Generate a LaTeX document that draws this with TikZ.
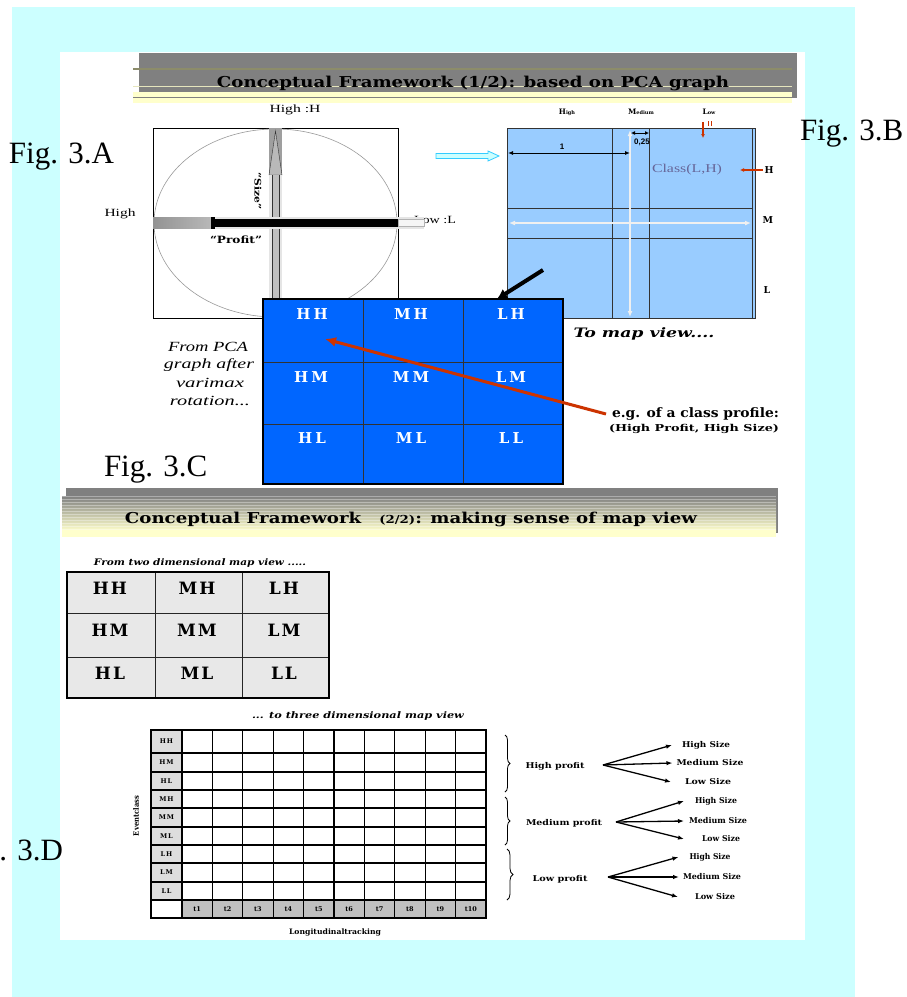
\documentclass[tikz,border=0pt]{standalone}
\usepackage{fontspec}
\setmainfont{Liberation Serif}
\newfontfamily\sansf{Liberation Sans}
\newfontfamily\heavy[Ligatures=TeX]{DejaVu Serif}
\usetikzlibrary{arrows.meta,decorations.pathreplacing}
\definecolor{bgcyan}{HTML}{CCFFFF}
\definecolor{ttgray}{HTML}{808080}
\definecolor{ttyel}{HTML}{FFFFCC}
\definecolor{ttolive}{HTML}{8C8C6A}
\definecolor{mapblue}{HTML}{99CCFF}
\definecolor{gridblue}{HTML}{0066FF}
\definecolor{redarr}{HTML}{CC3300}
\definecolor{cellgray}{HTML}{E8E8E8}
\definecolor{labgray}{HTML}{DDDDDD}
\definecolor{tgray}{HTML}{C0C0C0}
\definecolor{classcol}{HTML}{666699}
\definecolor{cyanline}{HTML}{33CCFF}
\newcommand{\fs}[1]{\fontsize{#1}{#1}\selectfont}
\newcommand{\stw}[2]{\resizebox{#1}{\height}{#2}}
\begin{document}
\begin{tikzpicture}[x=1pt,y=-1pt,
  txt/.style={inner sep=0pt, outer sep=0pt},
  figlbl/.style={txt, font=\fs{31}},
  bluecell/.style={txt, text=white, font=\heavy\bfseries\fs{15}},
  graycell/.style={txt, font=\heavy\bfseries\fs{17}},
  tinylbl/.style={txt, font=\heavy\bfseries\fs{6.5}},
  smalllbl/.style={txt, font=\heavy\bfseries\fs{8}},
  profarr/.style={line width=1.3pt, -{Latex[length=6pt,width=4.5pt]}},
  gridln/.style={black, line width=1.1pt},
]
\useasboundingbox (0,0) rectangle (906,997);
\fill[white] (0,0) rectangle (906,997);
\fill[bgcyan] (12,7) rectangle (855,997);
\fill[white] (60,52) rectangle (805,940);

% ---------- title 1 ----------
\fill[ttgray] (139,53) rectangle (797,98);
\draw[ttolive, line width=1.5pt] (133,69) -- (792,69);
\draw[ttyel!80!gray, line width=1.2pt] (133,86.5) -- (792,86.5);
\fill[ttyel] (133,92) rectangle (792,103);
\draw[gray, line width=1pt] (133,97) -- (792,97);
\node[txt, anchor=base] (title1) at (473,87) {\stw{512pt}{\heavy\bfseries\fs{15}Conceptual Framework (1/2): based on PCA graph}};

% ---------- Fig 3.A ----------
\draw[black, line width=0.8pt] (153,128) rectangle (398,318);
\draw[gray!80, line width=0.6pt] (275.5,223) ellipse [x radius=121.5pt, y radius=94pt];
\node[txt, font=\fs{11}, anchor=east] (lowL) at (456,220) {\stw{42pt}{Low :L}};
% vertical "Size" arrow
\fill[gray!75] (269,128) rectangle (282,175);
\filldraw[draw=gray!40!black, fill=gray!55] (269,175) -- (275.5,131) -- (282,175) -- cycle;
\fill[gray!20] (269,175) rectangle (282,318);
\fill[gray!50] (272.5,175) rectangle (278.5,318);
\draw[gray!40!black] (272,175) -- (272,318) (279,175) -- (279,318);
% horizontal "Profit" bar
\fill[gray!20] (212,216.5) rectangle (424,229);
\shade[left color=gray!85, right color=gray!55] (153,217) rectangle (212,228);
\fill[black] (212,219) rectangle (398,226.5);
\fill[black] (210.5,216.5) rectangle (214.5,229);
\filldraw[draw=gray!60, fill=gray!8] (398,219) rectangle (424,226);
\node[txt, font=\fs{11}] (highH) at (295,110) {\stw{51pt}{High :H}};
\node[txt, font=\fs{11}] (highP) at (120,214) {\stw{31pt}{High}};
\node[txt, font=\heavy\bfseries\fs{10}] (profit) at (236,240) {\stw{52pt}{“Profit”}};
\node[txt, font=\heavy\bfseries\fs{9}, rotate=-90] (size) at (258,191) {\stw{37pt}{“Size”}};
\node[figlbl, anchor=base west] (figA) at (9,163) {Fig. 3.A};

% ---------- Fig 3.B ----------
\fill[mapblue] (507,128) rectangle (755,318);
\draw[black!80, line width=0.8pt] (507,128) rectangle (755,318);
\draw[black!80] (752,128) -- (752,318);
\draw[black!80] (612,128) -- (612,318) (649,128) -- (649,318);
\draw[black!80] (507,208) -- (752,208) (507,238) -- (752,238);
\draw[gray!12, line width=1.5pt, {Latex[length=6pt,width=5pt]}-{Latex[length=6pt,width=5pt]}] (630,130) -- (630,317);
\draw[gray!12, line width=1.5pt, {Latex[length=6pt,width=5pt]}-{Latex[length=6pt,width=5pt]}] (509,223) -- (751,223);
\draw[black, line width=1pt, {Latex[length=5pt,width=4pt]}-{Latex[length=5pt,width=4pt]}] (508,153) -- (630,153);
\draw[black, line width=1pt, {Latex[length=4pt,width=4pt]}-{Latex[length=4pt,width=4pt]}] (631,133) -- (649,133);
\node[txt, font=\fs{8}\sansf\bfseries] (dimone) at (562,147) {1};
\node[txt, font=\fs{8}\sansf\bfseries] (dimq) at (642,142) {0,25};
\node[txt, font=\heavy\bfseries] (hdH) at (567,112) {\fs{7.5}H\fs{5}igh};
\node[txt, font=\heavy\bfseries] (hdM) at (641,112) {\fs{7.5}M\fs{5}edium};
\node[txt, font=\heavy\bfseries] (hdL) at (709,112) {\fs{7.5}L\fs{5}ow};
\draw[redarr, line width=1.2pt, -{Latex[length=4pt,width=4pt]}] (703,122) -- (703,138);
\draw[redarr, line width=0.8pt] (708,121) -- (708,126) (711,121) -- (711,126);
\node[txt, font=\fs{12}, text=classcol] (cls) at (687,170) {\stw{70pt}{Class(L,H)}};
\node[txt, font=\heavy\bfseries\fs{9.5}] (rH) at (769,170) {H};
\node[txt, font=\heavy\bfseries\fs{9.5}] (rM) at (768,220) {M};
\node[txt, font=\heavy\bfseries\fs{9.5}] (rL) at (767,290) {L};
\draw[redarr, line width=1.2pt, -{Latex[length=4pt,width=4pt]}] ([xshift=-2pt]rH.west) -- (740,170);
\node[figlbl, anchor=base west] (figB) at (800,140) {Fig. 3.B};
% cyan arrow A -> B
\filldraw[draw=cyanline, fill=bgcyan, line width=0.8pt] (436,153.5) -- (488,153.5) -- (488,151) -- (499,156) -- (488,161) -- (488,158.5) -- (436,158.5) -- cycle;

% ---------- Fig 3.C ----------
\fill[gridblue] (263,299) rectangle (563,484);
\draw[black!80, line width=0.8pt] (363,299) -- (363,484) (463,299) -- (463,484) (263,362) -- (563,362) (263,424) -- (563,424);
\draw[black, line width=2pt] (263,299) rectangle (563,484);
\node[bluecell] (cHH) at (312,314) {H\kern3pt H};
\node[bluecell] (cMH) at (411,314) {M\kern3pt H};
\node[bluecell] (cLH) at (511,314) {L\kern3pt H};
\node[bluecell] (cHM) at (311,377) {H\kern3pt M};
\node[bluecell] (cMM) at (411,377) {M\kern3pt M};
\node[bluecell] (cLM) at (511,377) {L\kern3pt M};
\node[bluecell] (cHL) at (312,438) {H\kern3pt L};
\node[bluecell] (cML) at (411,438) {M\kern3pt L};
\node[bluecell] (cLL) at (511,438) {L\kern3pt L};
\draw[black, line width=4pt, -{Latex[length=10pt,width=11pt]}] (543,270) -- (497,299);
\node[txt, font=\heavy\bfseries\itshape\fs{13}] (tomap) at (644,334) {\stw{141pt}{To map view....}};
\node[txt, font=\heavy\bfseries\fs{13}, anchor=west] (eg) at (612,414) {\stw{167pt}{e.g. of a class profile:}};
\node[txt, font=\heavy\bfseries\fs{9.5}, anchor=west] (egb) at (609,429) {\stw{170pt}{(High Profit, High Size)}};
\draw[redarr, line width=3pt, -{Latex[length=11pt,width=10pt]}] ([xshift=-6pt]eg.west) -- ([xshift=13pt,yshift=-25pt]cHH.center);
\node[txt, font=\fs{14}\itshape] (pca1) at (208,347) {\stw{80pt}{From PCA}};
\node[txt, font=\fs{14}\itshape] (pca2) at (209,365) {\stw{90pt}{graph after}};
\node[txt, font=\fs{14}\itshape] (pca3) at (210,383) {\stw{68pt}{varimax}};
\node[txt, font=\fs{14}\itshape] (pca4) at (210,401) {\stw{80pt}{rotation...}};
\node[figlbl, anchor=base west] (figC) at (104,476) {Fig. 3.C};

% ---------- title 2 ----------
\fill[ttgray] (66,488) rectangle (778,533);
\shade[top color=ttgray, bottom color=ttyel] (62,496) rectangle (776,531);
\foreach \yy in {496,499,...,530} \draw[white, opacity=0.35, line width=0.7pt] (60,\yy) -- (776,\yy);
\fill[ttyel] (62,530) rectangle (776,537);
\node[txt, anchor=base] (title2) at (411,523) {\stw{572pt}{\heavy\bfseries\fs{15}Conceptual Framework\quad{\fs{11}(2/2)}: making sense of map view}};

% ---------- two-dimensional table ----------
\node[txt, font=\heavy\bfseries\itshape\fs{9}] (twod) at (200,563) {\stw{212pt}{From two dimensional map view .....}};
\fill[cellgray] (67,572) rectangle (329,698);
\draw[black!85, line width=0.8pt] (155,572) -- (155,698) (242,572) -- (242,698) (67,613) -- (329,613) (67,657) -- (329,657);
\draw[black, line width=2pt] (67,572) rectangle (329,698);
\node[graycell] (tHH) at (110,588) {H\kern2pt H};
\node[graycell] (tMH) at (197,588) {M\kern2pt H};
\node[graycell] (tLH) at (284,588) {L\kern2pt H};
\node[graycell] (tHM) at (110,630) {H\kern2pt M};
\node[graycell] (tMM) at (197,630) {M\kern2pt M};
\node[graycell] (tLM) at (284,630) {L\kern2pt M};
\node[graycell] (tHL) at (110,673) {H\kern2pt L};
\node[graycell] (tML) at (197,673) {M\kern2pt L};
\node[graycell] (tLL) at (284,673) {L\kern2pt L};
\node[txt, font=\heavy\bfseries\itshape\fs{9}] (threed) at (358,716) {\stw{212pt}{... to three dimensional map view}};

% ---------- three-dimensional grid ----------
\fill[labgray] (151,730) rectangle (182,900);
\fill[tgray] (182,900) rectangle (486,918);
\foreach \yy in {753,772,808,827,863,882,900} \draw[gridln] (151,\yy) -- (486,\yy);
\foreach \yy in {790,845} \draw[black, line width=2pt] (151,\yy) -- (486,\yy);
\foreach \i in {0,...,9} \draw[gridln] ({182+30.4*\i},730) -- ({182+30.4*\i},918);
\draw[black, line width=2pt] (151,730) rectangle (486,918);
\foreach \lab/\yy [count=\i] in {H\kern0.8pt H/741.5, H\kern0.8pt M/762.5, H\kern0.8pt L/781, M\kern0.8pt H/799, M\kern0.8pt M/817.5, M\kern0.8pt L/836, L\kern0.8pt H/854, L\kern0.8pt M/872.5, L\kern0.8pt L/891}
  \node[tinylbl] (ev\i) at (166.5,\yy) {\lab};
\foreach \i in {1,...,10} \node[tinylbl] (tt\i) at ({182+30.4*(\i-0.5)},909) {t\i};
\node[txt, font=\heavy\bfseries\fs{7.5}, rotate=90] (evcl) at (136,816) {\stw{40pt}{Eventclass}};
\node[txt, font=\heavy\bfseries\fs{7.5}] (longi) at (335,932) {\stw{92pt}{Longitudinaltracking}};
\node[figlbl, anchor=base east] (figD) at (63,860) {Fig. 3.D};

% ---------- braces and profit trees ----------
\draw[line width=0.8pt, decorate, decoration={brace, amplitude=5pt}] (505,735) -- (505,792);
\draw[line width=0.8pt, decorate, decoration={brace, amplitude=5pt}] (505,797) -- (505,845);
\draw[line width=0.8pt, decorate, decoration={brace, amplitude=6pt}] (507,849) -- (507,900);

\node[smalllbl] (hp) at (555,766) {\stw{59pt}{High profit}};
\node[smalllbl] (mp) at (564,823) {\stw{76pt}{Medium profit}};
\node[smalllbl] (lp) at (560,879) {\stw{55pt}{Low profit}};

\node[smalllbl] (hs1) at (706,745) {\stw{48pt}{High Size}};
\node[smalllbl] (ms1) at (710,763) {\stw{67pt}{Medium Size}};
\node[smalllbl] (ls1) at (708,782) {\stw{46pt}{Low Size}};
\node[smalllbl] (hs2) at (716,801) {\stw{42pt}{High Size}};
\node[smalllbl] (ms2) at (718,821) {\stw{58pt}{Medium Size}};
\node[smalllbl] (ls2) at (721,839) {\stw{38pt}{Low Size}};
\node[smalllbl] (hs3) at (710,857) {\stw{41pt}{High Size}};
\node[smalllbl] (ms3) at (712,877) {\stw{58pt}{Medium Size}};
\node[smalllbl] (ls3) at (715,897) {\stw{40pt}{Low Size}};

\coordinate (hpS) at (603,765);
\coordinate (mpS) at (616,822);
\coordinate (lpS) at (608,877);
\draw[profarr] (hpS) -- ([xshift=-10pt]hs1.west);
\draw[profarr] (hpS) -- ([xshift=-4pt]ms1.west);
\draw[profarr] (hpS) -- ([xshift=-14pt]ls1.west);
\draw[profarr] (mpS) -- ([xshift=-11pt]hs2.west);
\draw[profarr] (mpS) -- ([xshift=-5pt]ms2.west);
\draw[profarr] (mpS) -- ([xshift=-18pt]ls2.west);
\draw[profarr] (lpS) -- ([xshift=-11pt]hs3.west);
\draw[profarr] (lpS) -- ([xshift=-4pt]ms3.west);
\draw[profarr] (lpS) -- ([xshift=-17pt]ls3.west);
\end{tikzpicture}
\end{document}
